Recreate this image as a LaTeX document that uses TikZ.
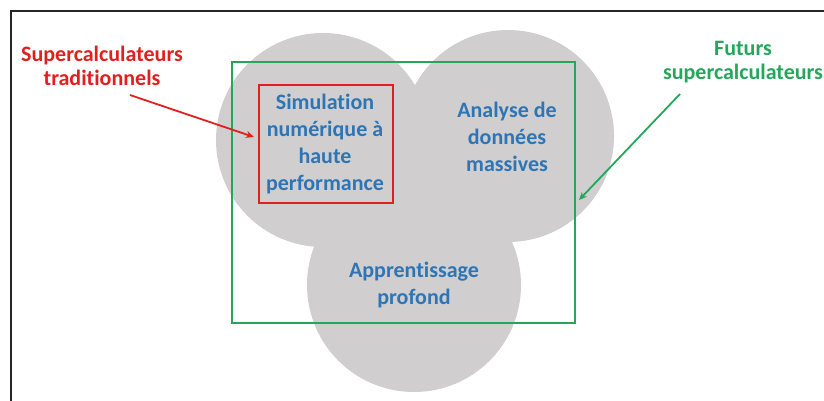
\documentclass[tikz,border=0pt]{standalone}
\usepackage{fontspec}
\setmainfont{Carlito}[Ligatures={NoCommon}]
\usetikzlibrary{arrows.meta}
\definecolor{cblue}{HTML}{2E75B6}
\definecolor{cred}{HTML}{E0201E}
\definecolor{cgreen}{HTML}{26A65B}
\definecolor{cgray}{HTML}{D0CECE}
\tikzset{
  bubble/.style={circle, fill=cgray, draw=none, minimum size=#1, inner sep=0pt},
  bluetxt/.style={text=cblue, font=\bfseries\fontsize{22}{27}\selectfont, align=center, inner sep=0pt},
  labeltxt/.style={font=\bfseries\fontsize{22}{24}\selectfont, align=center, inner sep=0pt},
  arrowline/.style={line width=1.8pt, -{Stealth[length=8pt,width=7pt]}},
}
\begin{document}
\begin{tikzpicture}[x=1pt,y=-1pt]
\useasboundingbox (0,0) rectangle (824,400);
% outer frame
\draw[line width=2pt, black!85] (11,402) -- (11,11) -- (826,11);
% circles
\node[bubble=214pt] (c1) at (323,140) {};
\node[bubble=212pt] (c2) at (508,136) {};
\node[bubble=214pt] (c3) at (414,285) {};
% green box
\node[draw=cgreen, line width=2pt, minimum width=343pt, minimum height=261pt, inner sep=0pt] (gbox) at (403.5,192.5) {};
% red box
\node[draw=cred, line width=2pt, minimum width=134pt, minimum height=118pt, inner sep=0pt] (simbox) at (326,144) {};
% texts
\node[bluetxt] (sim) at (325,144) {Simulation\\numérique à\\haute\\performance};
\node[bluetxt] (ana) at (507,137) {Analyse de\\données\\massives};
\node[bluetxt] (app) at (414,285) {Apprentissage\\profond};
\node[labeltxt, text=cred] (trad) at (102,66) {Supercalculateurs\\traditionnels};
\node[labeltxt, text=cgreen] (fut) at (743,62) {Futurs\\supercalculateurs};
% arrows
\coordinate (rs) at (130,95);
\coordinate (re) at (254,137);
\coordinate (gs) at (680,94);
\coordinate (ge) at (579,200);
\draw[arrowline, cred] (rs) -- (re);
\draw[arrowline, cgreen] (gs) -- (ge);
\end{tikzpicture}
\end{document}
